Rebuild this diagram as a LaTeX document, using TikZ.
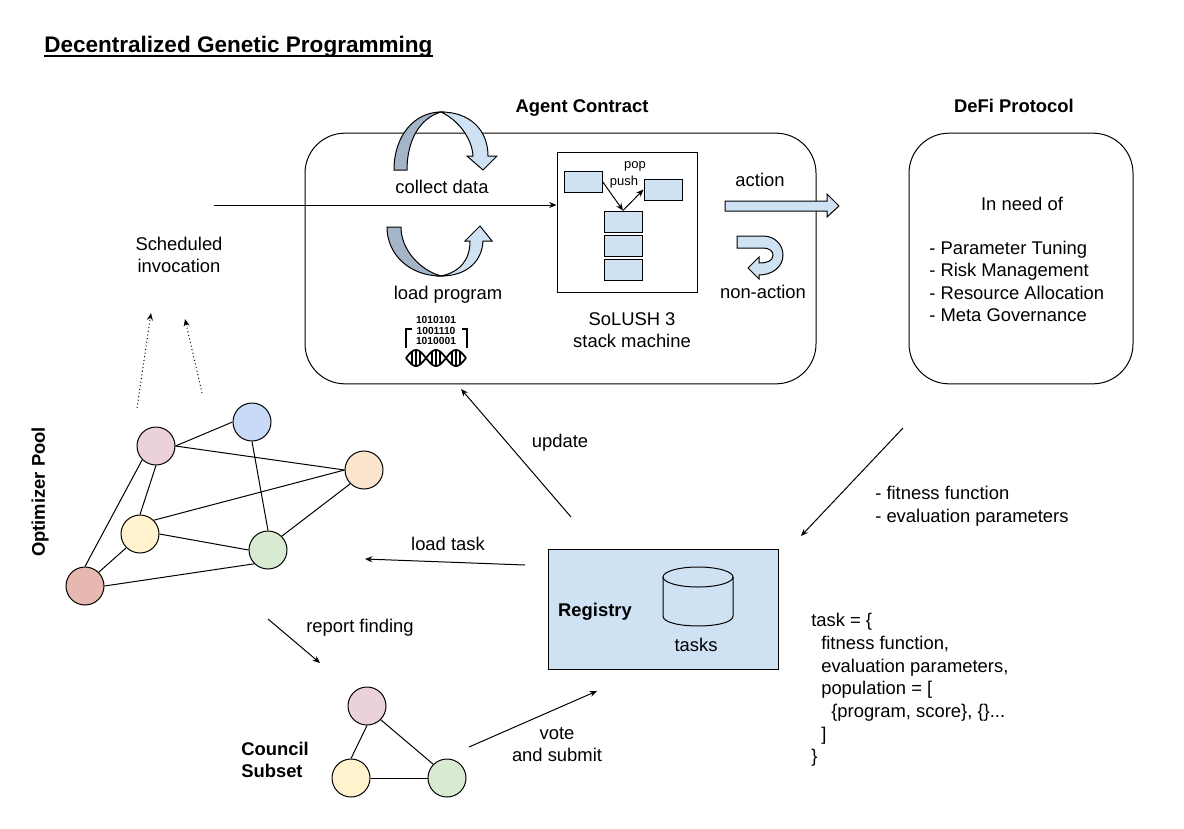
\documentclass[tikz,border=0pt]{standalone}
\usepackage{fontspec}
\setmainfont{Liberation Sans}
\usepackage{xcolor}
\definecolor{stackblue}{RGB}{207,226,243}
\definecolor{arcgray}{RGB}{163,181,199}
\definecolor{nodepink}{RGB}{234,209,220}
\definecolor{nodeblue}{RGB}{201,218,248}
\definecolor{nodeorange}{RGB}{252,229,205}
\definecolor{nodeyellow}{RGB}{255,242,204}
\definecolor{nodegreen}{RGB}{217,234,211}
\definecolor{nodered}{RGB}{230,184,175}
\usepackage{tikz}
\usetikzlibrary{shapes.geometric,arrows.meta,calc}

\begin{document}
\begin{tikzpicture}[
    x=0.75pt, y=-0.75pt,
    txt/.style={align=center, inner sep=0pt, font=\fontsize{13.8}{16.6}\selectfont},
    txtleft/.style={align=left, anchor=west, inner sep=0pt, font=\fontsize{13.8}{16.9}\selectfont},
    bold/.style={txt, font=\fontsize{13.8}{16.6}\selectfont\bfseries},
    panel/.style={rectangle, draw, line width=0.75pt, rounded corners=30pt, minimum height=188pt},
    cell/.style={rectangle, draw, fill=stackblue, line width=0.75pt, minimum width=28.5pt, minimum height=15.75pt, inner sep=0pt},
    peer/.style={circle, draw, line width=0.75pt, minimum size=28.5pt, inner sep=0pt},
    link/.style={line width=0.75pt},
    arr/.style={-{Stealth[length=5.5pt,width=4.5pt]}, line width=0.75pt},
    dotarr/.style={arr, dotted},
    bigarrow/.style={draw, line width=0.75pt, fill=stackblue},
  ]
    \useasboundingbox (0,0) rectangle (1184,828);

    \node[anchor=west, inner sep=0pt, font=\fontsize{16.9}{20}\selectfont\bfseries] (title) at (44,47) {Decentralized Genetic Programming};
    \draw[line width=1.3pt] ($(title.base west)+(0,3)$) -- ($(title.base east)+(0,3)$);

    % contract and protocol
    \node[panel, minimum width=383.25pt] (agent) at (560.5,258.5) {};
    \node[panel, minimum width=168pt] (defi) at (1021,258.5) {};
    \node[bold] (agentlabel) at (582,108) {Agent Contract};
    \node[bold] (defilabel) at (1014,106) {DeFi Protocol};

    % collect data arc
    \draw[link, fill=arcgray] (394,170) .. controls (394,135) and (415,112) .. (441,112) .. controls (420,118) and (407,140) .. (407,170) -- cycle;
    \draw[bigarrow] (441,112) .. controls (470,112) and (488,130) .. (488,156) -- (497,156) -- (483,170) -- (467,156) -- (473,156) .. controls (472,138) and (458,120) .. (441,112) -- cycle;
    \node[txt] (collect) at (442,187) {collect data};

    % load program arc
    \draw[link, fill=arcgray] (387,227) -- (401,227) .. controls (401,250) and (420,270) .. (441,276) .. controls (410,276) and (387,255) .. (387,227) -- cycle;
    \draw[bigarrow] (441,276) .. controls (460,272) and (470,260) .. (470,241) -- (465,241) -- (480,226) -- (492,241) -- (483,241) .. controls (482,262) and (466,276) .. (441,276) -- cycle;
    \node[txt] (load) at (448,295) {load program};

    % program icon
    \node[inner sep=0pt, align=center, font=\fontsize{7.7}{7.8}\selectfont\bfseries] (bits) at (436,330.5) {1010101\\1001110\\1010001};
    \draw[line width=1.2pt] (412,329) -- (406,329) -- (406,348);
    \draw[line width=1.2pt] (462,329) -- (467,329) -- (467,348);
    \draw[line width=1.3pt, domain=406:466, samples=61, smooth] plot (\x, {358+8*sin(9*(\x-406))});
    \draw[line width=1.3pt, domain=406:466, samples=61, smooth] plot (\x, {358-8*sin(9*(\x-406))});
    \foreach \lobe in {406,426,446} {
      \foreach \off in {6,10,14} {
        \draw[line width=1pt] ({\lobe+\off},{358-8*sin(9*\off)}) -- ({\lobe+\off},{358+8*sin(9*\off)});
      }
    }

    % stack machine
    \node[rectangle, draw, line width=0.75pt, minimum width=105pt, minimum height=105pt, inner sep=0pt] (stackframe) at (627,222) {};
    \node[cell] (pushbox) at (583,181.5) {};
    \node[cell] (popbox) at (663,189.5) {};
    \node[cell] (stacktop) at (623,221.5) {};
    \node[cell] (stackmid) at (623,245.5) {};
    \node[cell] (stacklow) at (623,269.5) {};
    \node[txt, font=\fontsize{9.75}{12}\selectfont] (poplabel) at (635,166.5) {pop};
    \node[txt, font=\fontsize{9.75}{12}\selectfont] (pushlabel) at (624,182) {push};
    \draw[arr] (pushbox.east) -- (stacktop.north);
    \draw[arr] (stacktop.north) -- (popbox.west);
    \node[txt] (solush) at (632,330) {SoLUSH 3\\stack machine};

    % action arrows
    \draw[bigarrow] (725,201) -- (827,201) -- (827,194) -- (839,206) -- (827,217) -- (827,211) -- (725,211) -- cycle;
    \node[txt] (action) at (760,180) {action};
    \draw[bigarrow] (737,236) -- (763,236) .. controls (775,236) and (783,245) .. (783,255) .. controls (783,267) and (772,275) .. (759,275) -- (759,279) -- (748,268) -- (759,257) -- (759,263) .. controls (767,263) and (773,261) .. (773,255) .. controls (773,251) and (769,248) .. (763,248) -- (737,248) -- cycle;
    \node[txt] (nonaction) at (763,292) {non-action};

    % protocol needs
    \node[txt] (need) at (1022,204) {In need of};
    \node[txtleft] (needlist) at (929,281.5) {- Parameter Tuning\\- Risk Management\\- Resource Allocation\\- Meta Governance};

    % invocation
    \coordinate (invokestart) at (214,205);
    \draw[arr] (invokestart) -- (stackframe.west |- invokestart);
    \node[txt] (invocation) at (179,255) {Scheduled\\invocation};
    \coordinate (dotonestart) at (137,408);
    \coordinate (dotoneend) at (151,313);
    \coordinate (dottwostart) at (202,393);
    \coordinate (dottwoend) at (185,319);
    \draw[dotarr] (dotonestart) -- (dotoneend);
    \draw[dotarr] (dottwostart) -- (dottwoend);

    % optimizer pool
    \node[peer, fill=nodepink] (poolpink) at (156,446) {};
    \node[peer, fill=nodeblue] (poolblue) at (252,422) {};
    \node[peer, fill=nodeorange] (poolorange) at (364,470) {};
    \node[peer, fill=nodeyellow] (poolyellow) at (140,534) {};
    \node[peer, fill=nodegreen] (poolgreen) at (268,550) {};
    \node[peer, fill=nodered] (poolred) at (85,586) {};
    \draw[link] (poolpink.east) -- (poolblue.west);
    \draw[link] (poolpink.east) -- (poolorange.west);
    \draw[link] (poolpink.south) -- (poolyellow.north);
    \draw[link] (poolpink.south west) -- (poolred.north);
    \draw[link] (poolblue.south) -- (poolgreen.north);
    \draw[link] (poolorange.west) -- (poolyellow.north east);
    \draw[link] (poolorange.south west) -- (poolgreen.north east);
    \draw[link] (poolyellow.east) -- (poolgreen.west);
    \draw[link] (poolyellow.south west) -- (poolred.north east);
    \draw[link] (poolred.east) -- (poolgreen.south west);
    \node[bold, rotate=90] (poollabel) at (40,492) {Optimizer Pool};

    % council
    \node[peer, fill=nodepink] (councilpink) at (367,706) {};
    \node[peer, fill=nodeyellow] (councilyellow) at (351,778) {};
    \node[peer, fill=nodegreen] (councilgreen) at (447,778) {};
    \draw[link] (councilpink.south) -- (councilyellow.north);
    \draw[link] (councilpink.south east) -- (councilgreen.north west);
    \draw[link] (councilyellow.east) -- (councilgreen.west);
    \node[bold, align=left, anchor=west] (councillabel) at (241,760) {Council\\Subset};

    % registry
    \node[rectangle, draw, fill=stackblue, line width=0.75pt, minimum width=172.5pt, minimum height=90pt] (registry) at (663,609) {};
    \node[bold] (registrylabel) at (595,612) {Registry};
    \draw[link] (698,577) ellipse [x radius=35, y radius=10];
    \draw[link] (663,577) -- (663,616) .. controls (663,629.3) and (733,629.3) .. (733,616) -- (733,577);
    \node[txt] (tasks) at (696,645) {tasks};

    % flows
    \coordinate (updatestart) at (571,517);
    \coordinate (updateend) at (461,389);
    \draw[arr] (updatestart) -- (updateend);
    \node[txt] (update) at (560,443) {update};
    \coordinate (fitstart) at (903,428);
    \coordinate (fitend) at (801,536);
    \draw[arr] (fitstart) -- (fitend);
    \node[txtleft] (fitlabel) at (875,506) {- fitness function\\- evaluation parameters};
    \coordinate (loadstart) at (525,565);
    \coordinate (loadend) at (365,559);
    \draw[arr] (loadstart) -- (loadend);
    \node[txt] (loadtask) at (448,544) {load task};
    \coordinate (reportstart) at (268,619);
    \coordinate (reportend) at (320,663);
    \draw[arr] (reportstart) -- (reportend);
    \node[txt] (report) at (360,628) {report finding};
    \coordinate (votestart) at (469,747);
    \coordinate (voteend) at (597,691);
    \draw[arr] (votestart) -- (voteend);
    \node[txt] (vote) at (557,745) {vote\\and submit};

    % task record
    \node[txtleft, font=\fontsize{13.8}{17}\selectfont] (taskrecord) at (811,690) {task = \{\\
      \hspace*{7.5pt}fitness function,\\
      \hspace*{7.5pt}evaluation parameters,\\
      \hspace*{7.5pt}population = [\\
      \hspace*{15pt}\{program, score\}, \{\}...\\
      \hspace*{7.5pt}]\\
      \}};
\end{tikzpicture}
\end{document}
